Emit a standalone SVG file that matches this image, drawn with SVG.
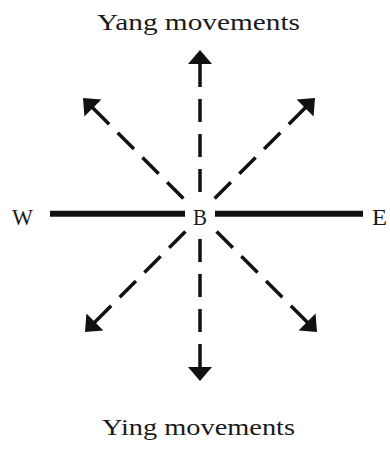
<svg xmlns="http://www.w3.org/2000/svg" width="390" height="449" viewBox="0 0 390 449">
<style>
.lbl{font-family:"Liberation Serif","Times New Roman",serif;font-size:24px;fill:#1a1a1a}
.axis{stroke:#111;stroke-width:6;fill:none}
.mv{stroke:#111;stroke-width:3.5;fill:none;stroke-dasharray:24 12 23 12 23 12 23;marker-start:url(#head)}
</style>
<defs>
<marker id="head" markerUnits="userSpaceOnUse" orient="auto-start-reverse" markerWidth="16" markerHeight="26" refX="0" refY="0" overflow="visible">
<path d="M-1,-12 L13,0 L-1,12 Z" fill="#111"/>
</marker>
</defs>
<rect width="390" height="449" fill="#fff"/>
<g id="connectors">
<path class="axis" d="M50,213.7 H185"/>
<path class="axis" d="M215,213.7 H363"/>
<path class="mv" d="M200,63 V192"/>
<path class="mv" d="M200,368 V239"/>
<path class="mv" d="M92.2,107.2 L183.4,198.4"/>
<path class="mv" d="M305.8,107.2 L214.6,198.4"/>
<path class="mv" d="M94.2,322.8 L185.4,231.6"/>
<path class="mv" d="M307.8,322.8 L216.6,231.6"/>
</g>
<g id="yang"><text class="lbl" x="97" y="30" textLength="203" lengthAdjust="spacingAndGlyphs">Yang movements</text></g>
<g id="ying"><text class="lbl" x="102" y="435" textLength="193" lengthAdjust="spacingAndGlyphs">Ying movements</text></g>
<g id="W"><text class="lbl" x="12" y="225" textLength="21" lengthAdjust="spacingAndGlyphs">W</text></g>
<g id="B"><text class="lbl" x="193" y="225" textLength="14" lengthAdjust="spacingAndGlyphs">B</text></g>
<g id="E"><text class="lbl" x="372" y="225" textLength="15" lengthAdjust="spacingAndGlyphs">E</text></g>
</svg>
